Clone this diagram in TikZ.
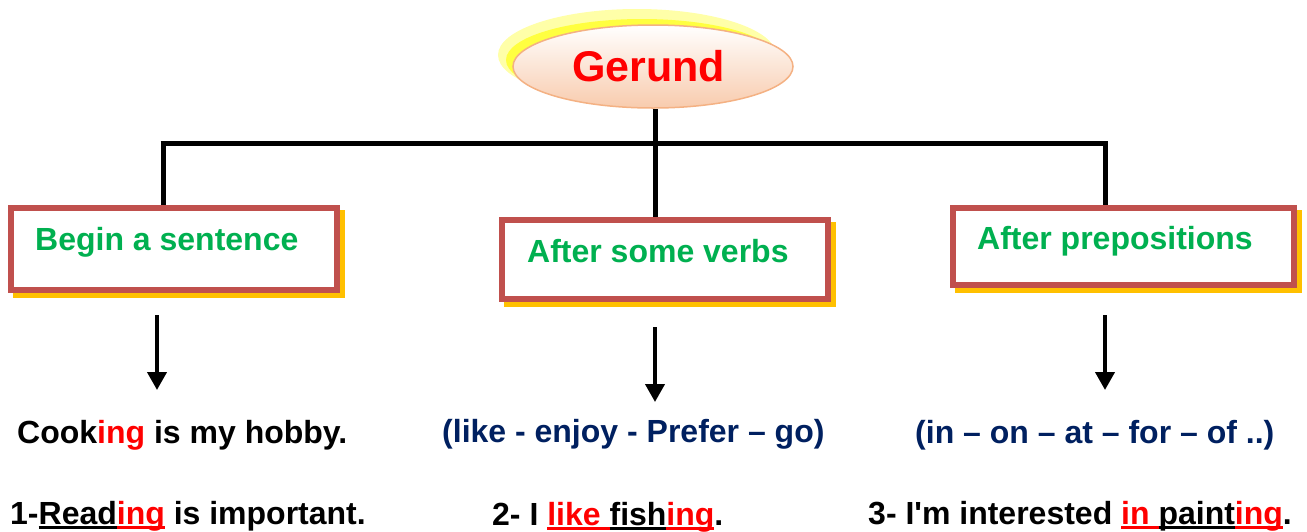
\documentclass[tikz,border=0pt]{standalone}
\usepackage{fontspec}
\setmainfont{Liberation Sans}[Ligatures=TeXOff]
\usetikzlibrary{arrows.meta,backgrounds,shapes.geometric}
\definecolor{boxred}{HTML}{C0504D}
\definecolor{shady}{HTML}{FFC000}
\definecolor{grn}{HTML}{00B050}
\definecolor{navy}{HTML}{002060}
\definecolor{peach}{HTML}{F8CBAD}
\definecolor{peachline}{HTML}{F4B183}
\definecolor{glowy}{HTML}{FFFFA8}
\definecolor{solidy}{HTML}{FFFF40}
\newcommand\gul[2]{\setbox0\hbox{{#2}}\rlap{\color{#1}\rule[-4.5pt]{\wd0}{2.2pt}}\box0\relax}
\begin{document}
\begin{tikzpicture}[x=1pt,y=-1pt,
  boxn/.style={draw=boxred, line width=6pt, fill=white, rectangle, inner sep=0pt},
  lbl/.style={font=\fontsize{32}{38}\selectfont\bfseries, text=grn, anchor=base west, inner sep=0pt},
  ex/.style={font=\fontsize{32}{38}\selectfont\bfseries, anchor=base west, inner sep=0pt},
  conn/.style={line width=5pt},
  arr/.style={line width=4pt, -{Triangle[length=18pt,width=19pt]}},
  shad/.style={fill=shady}]
\useasboundingbox (0,0) rectangle (1307,531);
% title ellipse with yellow glow
\fill[glowy] (637,55) ellipse [x radius=139, y radius=46];
\fill[solidy] (642,60) ellipse [x radius=136, y radius=41];
\node[ellipse, draw=peachline, line width=1.5pt, top color=white, bottom color=peach,
      minimum width=280, minimum height=83, inner sep=0pt,
      font=\fontsize{43}{50}\selectfont\bfseries, text=red] (ger) at (653,66.5) {\hspace*{-9pt}Gerund};
% boxes
\node[boxn, minimum width=326, minimum height=82] (b1) at (174,249) {};
\node[boxn, minimum width=326, minimum height=79] (b2) at (665,259.5) {};
\node[boxn, minimum width=341, minimum height=77] (b3) at (1123.5,246.5) {};
\begin{scope}[on background layer]
  \fill[shad] ([shift={(5,5)}]b1.north west) rectangle ([shift={(5,5)}]b1.south east);
  \fill[shad] ([shift={(5,5)}]b2.north west) rectangle ([shift={(5,5)}]b2.south east);
  \fill[shad] ([shift={(5,5)}]b3.north west) rectangle ([shift={(5,5)}]b3.south east);
\end{scope}
\node[lbl] (t1) at (35,250) {Begin a sentence};
\node[lbl] (t2) at (527,262) {After some verbs};
\node[lbl] (t3) at (977,249) {After prepositions};
% tree connectors
\coordinate (hL) at (160.5,143);
\coordinate (hM) at (655,143);
\coordinate (hR) at (1107.5,143);
\coordinate (vL) at (163,143);
\coordinate (vR) at (1105,143);
\draw[conn] (ger.south -| hM) -- (hM);
\draw[conn] (hL) -- (hR);
\draw[conn] (vL) -- (vL |- b1.north);
\draw[conn] (hM) -- (hM |- b2.north);
\draw[conn] (vR) -- (vR |- b3.north);
% arrows
\coordinate (a1s) at (157,315); \coordinate (a1e) at (157,390);
\coordinate (a2s) at (655,327); \coordinate (a2e) at (655,402);
\coordinate (a3s) at (1105,315); \coordinate (a3e) at (1105,390);
\draw[arr] (a1s) -- (a1e);
\draw[arr] (a2s) -- (a2e);
\draw[arr] (a3s) -- (a3e);
% example lines
\node[ex] (c1) at (17,443) {Cook{\color{red}ing} is my hobby.};
\node[ex, text=navy] (c2) at (442,442) {(like - enjoy - Prefer – go)};
\node[ex, text=navy] (c3) at (915,443) {(in – on – at – for – of ..)};
\node[ex] (d1) at (10,524) {1-\gul{black}{Read}\gul{red}{\color{red}ing} is important.};
\node[ex] (d2) at (492,525) {2- I \gul{red}{\color{red}like }\gul{black}{fish}\gul{red}{\color{red}ing}.};
\node[ex] (d3) at (868,524) {3- I'm interested \gul{red}{\color{red}in }\gul{black}{paint}\gul{red}{\color{red}ing}.};
\end{tikzpicture}
\end{document}
